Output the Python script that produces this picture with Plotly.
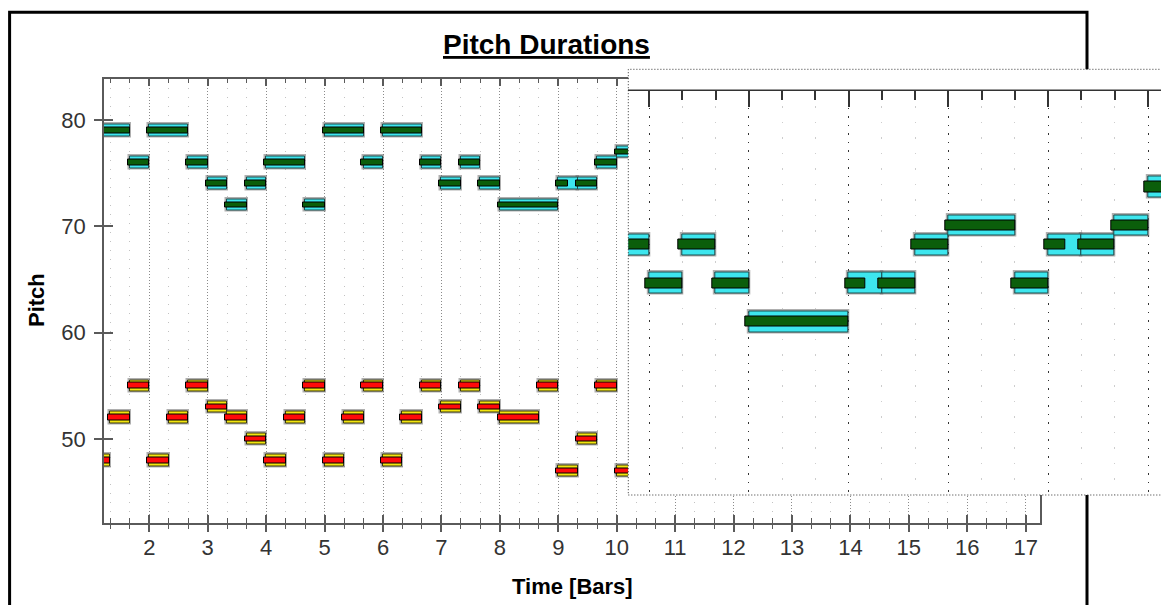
import plotly.graph_objects as go

# the page body adds an 8 px margin, so the figure is 8 px smaller than the window
OFF = 8
W, H = 1169 - OFF, 605 - OFF
BEATS_PER_BAR = 3

# ---- main chart data (start/duration in beats from the start of bar 1) ----
hi_start  = [0, 2, 3, 5, 6, 7, 8, 9, 11, 12, 14, 15, 17, 18, 19, 20, 21, 24, 25, 26, 27]
hi_dur    = [2, 1, 2, 1, 1, 1, 1, 2, 1, 2, 1, 2, 1, 1, 1, 1, 3, 1, 1, 1, 2]
hi_pitch  = [79, 76, 79, 76, 74, 72, 74, 76, 72, 79, 76, 79, 76, 74, 76, 74, 72, 74, 74, 76, 77]
hi_played = [2, 1, 2, 1, 1, 1, 1, 2, 1, 2, 1, 2, 1, 1, 1, 1, 3, 0.5, 1, 1, 2]

lo_start  = [0, 1, 2, 3, 4, 5, 6, 7, 8, 9, 10, 11, 12, 13, 14, 15, 16, 17, 18, 19, 20, 21, 23, 24, 25, 26, 27]
lo_dur    = [1, 1, 1, 1, 1, 1, 1, 1, 1, 1, 1, 1, 1, 1, 1, 1, 1, 1, 1, 1, 1, 2, 1, 1, 1, 1, 1]
lo_pitch  = [48, 52, 55, 48, 52, 55, 53, 52, 50, 48, 52, 55, 48, 52, 55, 48, 52, 55, 53, 55, 53, 52, 55, 47, 50, 55, 47]
lo_played = lo_dur

# ---- magnified inset data ----
ins_start  = [29, 30, 31, 32, 33, 36, 37, 38, 39, 41, 42, 43, 44, 45]
ins_dur    = [1, 1, 1, 1, 3, 1, 1, 1, 2, 1, 1, 1, 1, 2]
ins_pitch  = [64, 62, 64, 62, 60, 62, 62, 64, 65, 62, 64, 64, 65, 67]
ins_played = [1, 1, 1, 1, 3, 0.5, 1, 1, 2, 1, 0.5, 1, 1, 2]

# axis settings
main_x_range = [1.2247, 17.2448]
main_y_range = [42.13, 83.9]
main_y_ticks = [50, 60, 70, 80]
ins_x_range = [10.7926, 16.2104]
ins_y_range = [50.993, 72.017]

FONT = "Liberation Sans, Arial, sans-serif"
GREEN_LEAD = 0.035  # bars


def to_bar(b):
    return 1 + b / BEATS_PER_BAR


def notes(start, dur, pitch, played, xa, ya, fill, edge, core):
    x0 = [to_bar(s) for s in start]
    w = [d / BEATS_PER_BAR for d in dur]
    g0 = [x - GREEN_LEAD for x in x0]
    gw = [p / BEATS_PER_BAR + GREEN_LEAD for p in played]
    common = dict(orientation="h", xaxis=xa, yaxis=ya, hoverinfo="skip", showlegend=False)
    return [
        go.Bar(base=x0, x=w, y=pitch, width=1.09,
               marker=dict(color="rgba(0,0,0,0)", line=dict(color="rgba(110,110,110,0.55)", width=3.5)),
               **common),
        go.Bar(base=x0, x=w, y=pitch, width=1.09,
               marker=dict(color=fill, line=dict(color=edge, width=1)), **common),
        go.Bar(base=g0, x=gw, y=pitch, width=0.54,
               marker=dict(color=core, line=dict(color="#000000", width=1)), **common),
    ]


traces = []
traces += notes(hi_start, hi_dur, hi_pitch, hi_played, "x", "y", "#3DE6EE", "#1D4F4F", "#0B5E0B")
traces += notes(lo_start, lo_dur, lo_pitch, lo_played, "x", "y", "#F2E40E", "#3A3A10", "#FF0A0A")
traces += notes(ins_start, ins_dur, ins_pitch, ins_played, "x2", "y2", "#3DE6EE", "#1D4F4F", "#0B5E0B")
# invisible helper trace so the overlay axes (crossing ticks) are drawn
traces.append(go.Scatter(x=[to_bar(s) for s in hi_start], y=hi_pitch, xaxis="x3", yaxis="y4",
                         mode="markers", marker=dict(opacity=0), hoverinfo="skip", showlegend=False))

fig = go.Figure(traces)

px = lambda v: (v - OFF) / W
py = lambda v: 1 - (v - OFF) / H

tickfont = dict(family=FONT, size=22, color="#333333")
AX = "#5a5a5a"

fig.update_layout(
    width=W, height=H, autosize=False,
    margin=dict(l=0, r=0, t=0, b=0, pad=0),
    paper_bgcolor="white", plot_bgcolor="white",
    barmode="overlay", bargap=0,
    xaxis=dict(domain=[px(104), px(1040)], range=main_x_range, anchor="y",
               tick0=0, dtick=1, ticks="outside", ticklen=8, tickwidth=1.5, tickcolor=AX,
               showline=True, linecolor=AX, linewidth=1.5,
               showgrid=True, gridcolor="#8a8a8a", gridwidth=1, griddash="1px,2px",
               minor=dict(dtick=1 / 3, ticks="outside", ticklen=5, tickwidth=1, tickcolor=AX,
                          showgrid=True, gridcolor="#c2c2c2", gridwidth=1, griddash="1px,8px"),
               tickfont=tickfont, zeroline=False, ticklabelstandoff=-4),
    xaxis3=dict(overlaying="x", anchor="y", range=main_x_range,
                tick0=0, dtick=1, ticks="inside", ticklen=8, tickwidth=1.5, tickcolor=AX,
                mirror="ticks", showline=True, linecolor=AX, linewidth=1.5,
                minor=dict(dtick=1 / 3, ticks="inside", ticklen=5, tickwidth=1, tickcolor=AX, showgrid=False),
                showticklabels=False, showgrid=False, zeroline=False),
    yaxis=dict(domain=[py(522.7), py(78.5)], range=main_y_range, anchor="x",
               tickvals=main_y_ticks, ticks="outside", ticklen=8, tickwidth=1.5, tickcolor=AX,
               showline=True, mirror=True, linecolor=AX, linewidth=1.5,
               showgrid=False, zeroline=False, tickfont=tickfont, ticklabelstandoff=4),
    yaxis4=dict(overlaying="y", anchor="x", side="left", range=main_y_range,
                tickvals=main_y_ticks, ticks="inside", ticklen=9, tickwidth=1.5, tickcolor=AX,
                showline=False, showticklabels=False, showgrid=False, zeroline=False),
    xaxis2=dict(domain=[px(628.3), 1.0], range=ins_x_range, anchor="y2", side="top",
                tick0=0, dtick=1, ticks="inside", ticklen=16, tickwidth=1.5, tickcolor="#333333",
                showline=True, linecolor="#333333", linewidth=2,
                showgrid=True, gridcolor="#333333", gridwidth=1, griddash="1.5px,7px",
                minor=dict(dtick=1 / 3, ticks="inside", ticklen=9, tickwidth=1.5, tickcolor="#333333",
                           showgrid=True, gridcolor="#cdcdcd", gridwidth=1, griddash="1.5px,14px"),
                showticklabels=False, zeroline=False),
    yaxis2=dict(domain=[py(495), py(90.5)], range=ins_y_range, anchor="x2",
                showticklabels=False, ticks="", showgrid=False, showline=False, zeroline=False),
    shapes=[
        # outer frame
        dict(type="rect", xref="paper", yref="paper", layer="below",
             x0=px(9.6), x1=px(1087), y0=py(640), y1=py(12.3),
             line=dict(color="black", width=3), fillcolor="rgba(0,0,0,0)"),
        # magnifier background (sits above the main subplot)
        dict(type="rect", xref="x2", yref="y2", layer="below",
             x0=ins_x_range[0] - 1, x1=ins_x_range[1] + 1, y0=ins_y_range[0] - 5, y1=ins_y_range[1] + 5,
             line=dict(width=0), fillcolor="white"),
        # magnifier top strip
        dict(type="rect", xref="paper", yref="paper", layer="above",
             x0=px(628.3), x1=px(1180), y0=py(89.6), y1=py(69.3),
             line=dict(width=0), fillcolor="white"),
        # magnifier dotted border
        dict(type="rect", xref="paper", yref="paper", layer="above",
             x0=px(628.3), x1=px(1185), y0=py(495), y1=py(69.3),
             line=dict(color="#333333", width=1, dash="1px,2px"), fillcolor="rgba(0,0,0,0)"),
    ],
    annotations=[
        dict(text="<b><u>Pitch Durations</u></b>", xref="paper", yref="paper",
             x=px(546), y=py(44), xanchor="center", yanchor="middle", showarrow=False,
             font=dict(family=FONT, size=28, color="black")),
        dict(text="<b>Time [Bars]</b>", xref="paper", yref="paper",
             x=px(572), y=py(586), xanchor="center", yanchor="middle", showarrow=False,
             font=dict(family=FONT, size=22, color="black")),
        dict(text="<b>Pitch</b>", xref="paper", yref="paper", textangle=-90,
             x=px(36), y=py(300), xanchor="center", yanchor="middle", showarrow=False,
             font=dict(family=FONT, size=22, color="black")),
    ],
)

fig.write_html("out.html")
